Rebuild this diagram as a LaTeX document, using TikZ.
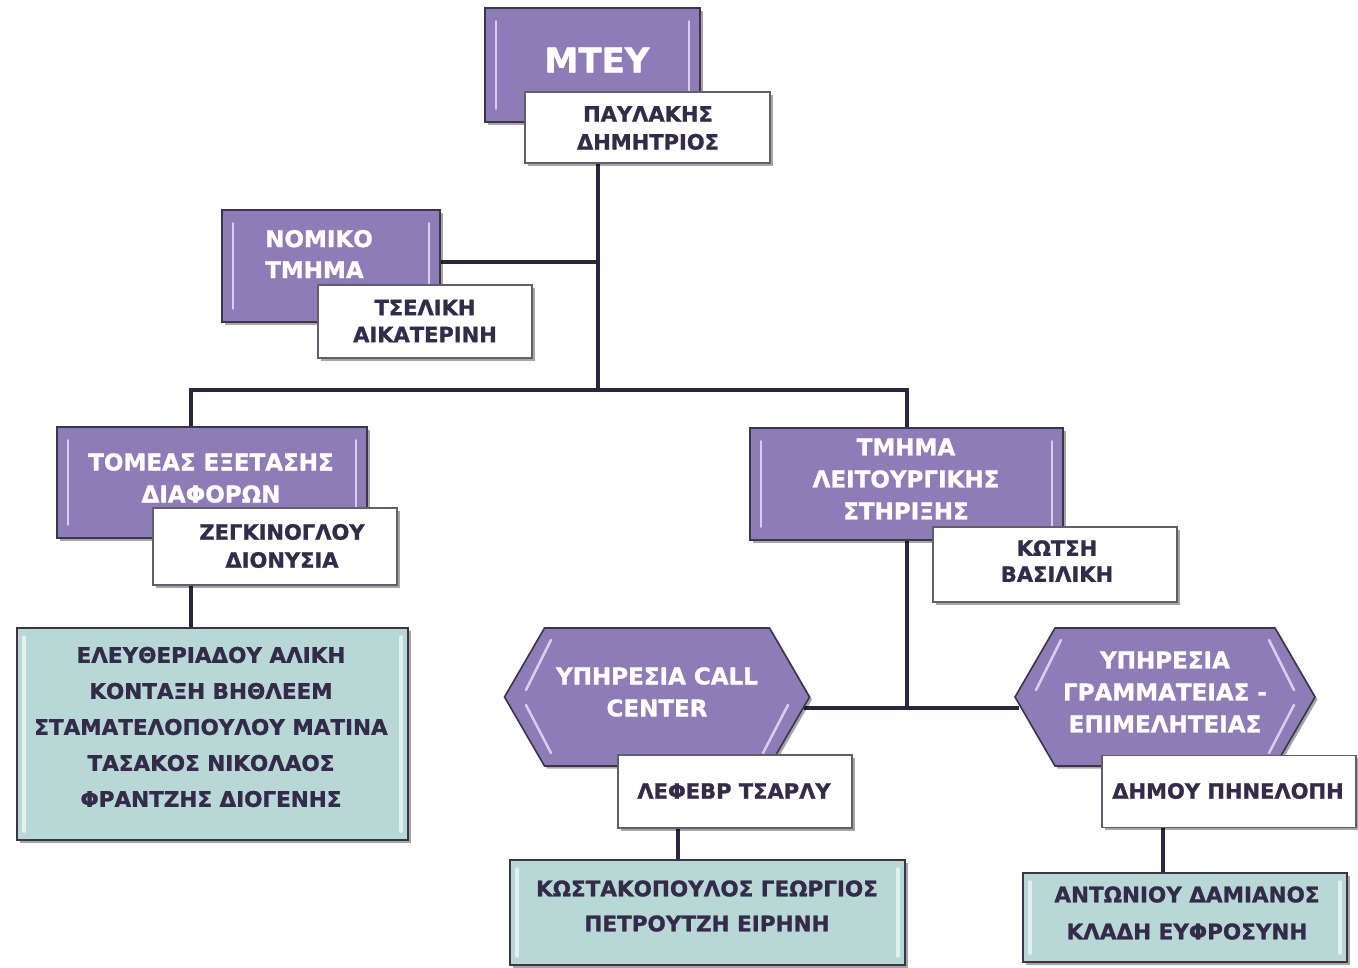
\documentclass[tikz,border=0pt]{standalone}
\usepackage{fontspec}
\setmainfont{DejaVu Sans}[BoldFeatures={FakeBold=1.2}]
\usetikzlibrary{shadows,backgrounds,calc}
\definecolor{purp}{HTML}{8D7CB8}
\definecolor{edge}{HTML}{3C3447}
\definecolor{tealf}{HTML}{B8D8D5}
\definecolor{nametext}{HTML}{342A4A}
\definecolor{conncol}{HTML}{2F2440}
\definecolor{hlp}{HTML}{E4DDF3}
\definecolor{hlt}{HTML}{E6F4F2}
\tikzset{
  shad/.style={drop shadow={shadow xshift=2.5pt,shadow yshift=-2.5pt,opacity=0.35,fill=black}},
  pbox/.style={rectangle,draw=edge,line width=1.6pt,fill=purp,inner sep=0pt,shad},
  nbox/.style={rectangle,draw=edge!80,line width=1.6pt,fill=white,inner sep=0pt,shad},
  tbox/.style={rectangle,draw=edge,line width=1.6pt,fill=tealf,inner sep=0pt,shad},
  hexs/.style={draw=edge,line width=1.6pt,fill=purp,shad},
  ptext/.style={text=white,font=\bfseries\fontsize{23}{32}\selectfont,align=center,inner sep=0pt},
  ntext/.style={text=nametext,font=\bfseries\fontsize{21}{28}\selectfont,align=center,inner sep=0pt},
  ttext/.style={text=nametext,font=\bfseries\fontsize{21.5}{36}\selectfont,align=center,inner sep=0pt},
  conn/.style={draw=conncol,line width=3.8pt},
  hlline/.style={draw=hlp,line width=2.5pt,line cap=round,opacity=0.85},
  tlline/.style={draw=hlt,line width=4pt,line cap=round,opacity=0.9},
}
\newcommand\hlbox[1]{%
  \draw[hlline] ([xshift=12pt,yshift=-14pt]#1.north west) -- ([xshift=12pt,yshift=14pt]#1.south west);
  \draw[hlline] ([xshift=-12pt,yshift=-14pt]#1.north east) -- ([xshift=-12pt,yshift=14pt]#1.south east);}
\newcommand\tlbox[1]{%
  \draw[tlline] ([xshift=8pt,yshift=-10pt]#1.north west) -- ([xshift=8pt,yshift=10pt]#1.south west);
  \draw[tlline] ([xshift=-8pt,yshift=-10pt]#1.north east) -- ([xshift=-8pt,yshift=10pt]#1.south east);}
\begin{document}
\begin{tikzpicture}[x=1pt,y=-1pt]
\useasboundingbox (0,0) rectangle (1358,967);

% ---------- top ----------
\node[pbox,minimum width=215,minimum height=114] (mtey) at (592.5,65) {};
\hlbox{mtey}
\node[ptext,font=\bfseries\fontsize{34}{40}\selectfont] (mteyt) at (597,60) {ΜΤΕΥ};
\node[nbox,minimum width=245,minimum height=71] (name1) at (647.5,127.5) {};
\node[ntext] (name1t) at (648,128) {ΠΑΥΛΑΚΗΣ\\ΔΗΜΗΤΡΙΟΣ};

% ---------- legal ----------
\node[pbox,minimum width=218,minimum height=112] (nomiko) at (331,266) {};
\hlbox{nomiko}
\node[ptext,align=left,anchor=west,font=\bfseries\fontsize{23}{31}\selectfont] (nomikot) at (265,254) {ΝΟΜΙΚΟ\\ΤΜΗΜΑ};
\node[nbox,minimum width=214,minimum height=73] (name2) at (425,321.5) {};
\node[ntext,font=\bfseries\fontsize{21}{27}\selectfont] (name2t) at (425,321) {ΤΣΕΛΙΚΗ\\ΑΙΚΑΤΕΡΙΝΗ};

% ---------- left branch ----------
\node[pbox,minimum width=310,minimum height=111] (tomeas) at (212,482.5) {};
\hlbox{tomeas}
\node[ptext] (tomeast) at (211,478) {ΤΟΜΕΑΣ ΕΞΕΤΑΣΗΣ\\ΔΙΑΦΟΡΩΝ};
\node[nbox,minimum width=244,minimum height=77] (name3) at (275,546.5) {};
\node[ntext] (name3t) at (282,546) {ΖΕΓΚΙΝΟΓΛΟΥ\\ΔΙΟΝΥΣΙΑ};
\node[tbox,minimum width=391,minimum height=212] (teal1) at (212.5,734) {};
\tlbox{teal1}
\node[ttext] (teal1t) at (211,727) {ΕΛΕΥΘΕΡΙΑΔΟΥ ΑΛΙΚΗ\\ΚΟΝΤΑΞΗ ΒΗΘΛΕΕΜ\\ΣΤΑΜΑΤΕΛΟΠΟΥΛΟΥ ΜΑΤΙΝΑ\\ΤΑΣΑΚΟΣ ΝΙΚΟΛΑΟΣ\\ΦΡΑΝΤΖΗΣ ΔΙΟΓΕΝΗΣ};

% ---------- right branch ----------
\node[pbox,minimum width=313,minimum height=112] (tmhma) at (906.5,484) {};
\hlbox{tmhma}
\node[ptext] (tmhmat) at (906,479) {ΤΜΗΜΑ\\ΛΕΙΤΟΥΡΓΙΚΗΣ\\ΣΤΗΡΙΞΗΣ};
\node[nbox,minimum width=244,minimum height=75] (name4) at (1055,564.5) {};
\node[ntext,font=\bfseries\fontsize{21}{26}\selectfont] (name4t) at (1057,561) {ΚΩΤΣΗ\\ΒΑΣΙΛΙΚΗ};

% hexagon 1
\coordinate (hex1c) at (657,697);
\path[hexs] (hex1c) ++(-152.5,0) -- ++(40,-69) -- ++(225,0) -- ++(40,69) -- ++(-40,69) -- ++(-225,0) -- cycle;
\draw[hlline] (526,690) -- (551,640);
\draw[hlline] (526,705) -- (551,753);
\draw[hlline] (788,705) -- (763,753);
\node[ptext] (hex1) at (657,692) {ΥΠΗΡΕΣΙΑ CALL\\CENTER};
\coordinate (h1e) at (804,708);
\node[nbox,minimum width=234,minimum height=73] (name5) at (735,791.5) {};
\node[ntext] (name5t) at (734,791) {ΛΕΦΕΒΡ ΤΣΑΡΛΥ};
\node[tbox,minimum width=395,minimum height=105] (teal2) at (707.5,912.5) {};
\tlbox{teal2}
\node[ttext,font=\bfseries\fontsize{21.5}{35}\selectfont] (teal2t) at (707,906) {ΚΩΣΤΑΚΟΠΟΥΛΟΣ ΓΕΩΡΓΙΟΣ\\ΠΕΤΡΟΥΤΖΗ ΕΙΡΗΝΗ};

% hexagon 2
\coordinate (hex2c) at (1165,697);
\path[hexs] (hex2c) ++(-150,0) -- ++(40,-69) -- ++(220,0) -- ++(40,69) -- ++(-40,69) -- ++(-220,0) -- cycle;
\draw[hlline] (1036,690) -- (1061,640);
\draw[hlline] (1294,690) -- (1269,640);
\draw[hlline] (1294,705) -- (1269,753);
\node[ptext] (hex2) at (1165,692) {ΥΠΗΡΕΣΙΑ\\ΓΡΑΜΜΑΤΕΙΑΣ -\\ΕΠΙΜΕΛΗΤΕΙΑΣ};
\coordinate (h2w) at (1019,708);
\node[nbox,minimum width=254,minimum height=72] (name6) at (1229,791.5) {};
\node[ntext] (name6t) at (1228,791) {ΔΗΜΟΥ ΠΗΝΕΛΟΠΗ};
\node[tbox,minimum width=324,minimum height=89] (teal3) at (1185,917.5) {};
\tlbox{teal3}
\node[ttext,font=\bfseries\fontsize{21.5}{37}\selectfont] (teal3t) at (1187,913) {ΑΝΤΩΝΙΟΥ ΔΑΜΙΑΝΟΣ\\ΚΛΑΔΗ ΕΥΦΡΟΣΥΝΗ};

% ---------- connectors ----------
\coordinate (j0) at (598,390);
\coordinate (jl) at (191,390);
\coordinate (jr) at (907,390);
\begin{pgfonlayer}{background}
\fill[white] (0,0) rectangle (1358,967);
\draw[conn] (name1.south -| j0) -- (j0);
\draw[conn] ([yshift=4pt]nomiko.east) -- ([yshift=4pt]nomiko.east -| j0);
\draw[conn] ([xshift=-1.9pt]jl) -- ([xshift=1.9pt]jr);
\draw[conn] (jl) -- (jl |- teal1.north);
\draw[conn] (jr) -- (jr |- h1e);
\draw[conn] (h1e) -- (h2w);
\draw[conn] ([xshift=-57pt]name5.south) -- ([xshift=-57pt]name5.south |- teal2.north);
\draw[conn] ([xshift=-66pt]name6.south) -- ([xshift=-66pt]name6.south |- teal3.north);
\end{pgfonlayer}
\end{tikzpicture}
\end{document}
